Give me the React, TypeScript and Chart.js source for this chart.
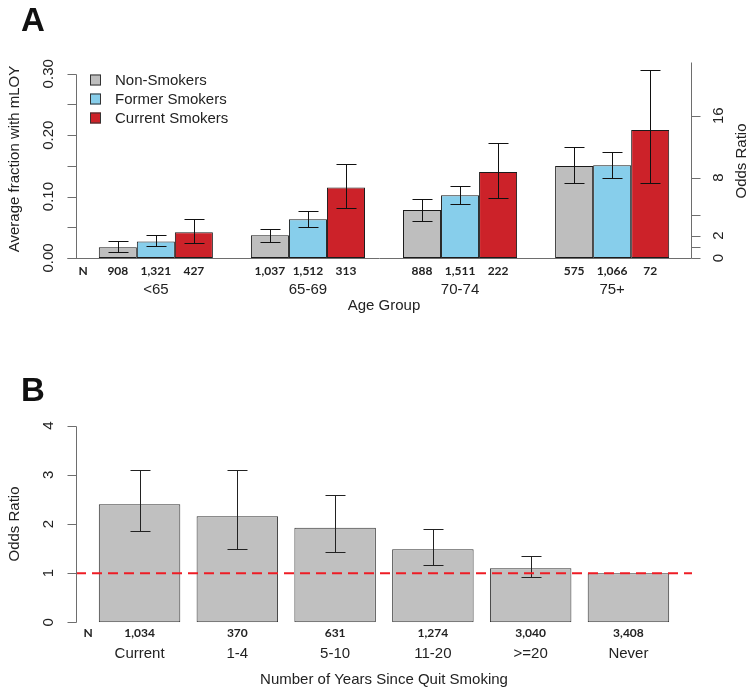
import React, { useEffect, useRef } from 'react';
import { Chart, registerables } from 'chart.js';

Chart.register(...registerables);

// ---------- Panel A data ----------
const ageGroups = ['<65', '65-69', '70-74', '75+'];
const seriesNames = ['Non-Smokers', 'Former Smokers', 'Current Smokers'];
const nonSmokers = [0.0175, 0.037, 0.078, 0.150];
const nonSmokersLo = [0.0098, 0.026, 0.061, 0.122];
const nonSmokersHi = [0.027, 0.048, 0.096, 0.180];
const formerSmokers = [0.027, 0.063, 0.102, 0.151];
const formerSmokersLo = [0.019, 0.051, 0.0875, 0.130];
const formerSmokersHi = [0.037, 0.076, 0.118, 0.173];
const currentSmokers = [0.042, 0.115, 0.140, 0.2085];
const currentSmokersLo = [0.025, 0.082, 0.097, 0.1226];
const currentSmokersHi = [0.063, 0.1526, 0.188, 0.3067];
const nNon = ['908', '1,037', '888', '575'];
const nFormer = ['1,321', '1,512', '1,511', '1,066'];
const nCurrent = ['427', '313', '222', '72'];
const fracTicks = [0, 0.05, 0.1, 0.15, 0.2, 0.25, 0.3];
const fracTickLabels = ['0.00', '', '0.10', '', '0.20', '', '0.30'];
const orTicks = [0, 1, 2, 4, 8, 16];
const orTickLabels = ['0', '', '2', '', '8', '16'];
const baselineFraction = 0.0185;

// ---------- Panel B data ----------
const quitCats = ['Current', '1-4', '5-10', '11-20', '>=20', 'Never'];
const quitOR = [2.40, 2.157, 1.925, 1.485, 1.099, 1.0];
const quitLo = [1.85, 1.485, 1.43, 1.172, 0.916, null];
const quitHi = [3.09, 3.105, 2.584, 1.898, 1.343, null];
const quitN = ['1,034', '370', '631', '1,274', '3,040', '3,408'];
const orTicksB = [0, 1, 2, 3, 4];
const orTickLabelsB = ['0', '1', '2', '3', '4'];

const GRAY = '#BEBEBE';
const BLUE = '#87CEEB';
const RED = '#CC2229';
const AXIS = '#6e6e6e';
const FONT = '"Liberation Sans", Arial, sans-serif';
const NFONT = 'bold 12px Lato, "Open Sans", sans-serif';

function rotText(ctx: CanvasRenderingContext2D, txt: string, x: number, y: number) {
  ctx.save();
  ctx.translate(x, y);
  ctx.rotate(-Math.PI / 2);
  ctx.textAlign = 'center';
  ctx.textBaseline = 'middle';
  ctx.fillText(txt, 0, 0);
  ctx.restore();
}

function drawErrorBars(ctx: CanvasRenderingContext2D, chart: any, dsIndex: number, lo: (number | null)[], hi: (number | null)[], color: string) {
  const meta = chart.getDatasetMeta(dsIndex);
  const ys = chart.scales.y;
  ctx.save();
  ctx.strokeStyle = color;
  ctx.lineWidth = 1;
  meta.data.forEach((bar: any, i: number) => {
    const l = lo[i];
    const h = hi[i];
    if (l == null || h == null) return;
    const x = Math.round(bar.x) + 0.5;
    const yl = Math.round(ys.getPixelForValue(l)) + 0.5;
    const yh = Math.round(ys.getPixelForValue(h)) + 0.5;
    ctx.beginPath();
    ctx.moveTo(x, yl); ctx.lineTo(x, yh);
    ctx.moveTo(x - 10, yl); ctx.lineTo(x + 10, yl);
    ctx.moveTo(x - 10, yh); ctx.lineTo(x + 10, yh);
    ctx.stroke();
  });
  ctx.restore();
}

const orToFraction = (or: number) => {
  const o0 = baselineFraction / (1 - baselineFraction);
  return (or * o0) / (1 + or * o0);
};

const panelAPlugin = {
  id: 'panelA',
  afterDatasetsDraw(chart: any) {
    const ctx = chart.ctx as CanvasRenderingContext2D;
    drawErrorBars(ctx, chart, 0, nonSmokersLo, nonSmokersHi, '#111');
    drawErrorBars(ctx, chart, 1, formerSmokersLo, formerSmokersHi, '#111');
    drawErrorBars(ctx, chart, 2, currentSmokersLo, currentSmokersHi, '#111');
  },
  afterDraw(chart: any) {
    const ctx = chart.ctx as CanvasRenderingContext2D;
    const { left, right, top } = chart.chartArea;
    const ys = chart.scales.y;
    const y0 = Math.round(ys.getPixelForValue(0)) + 0.5;
    const lx = Math.round(left) + 0.5;
    const rx = Math.round(right) - 0.5;
    ctx.save();
    ctx.strokeStyle = AXIS;
    ctx.lineWidth = 1;
    ctx.beginPath();
    ctx.moveTo(lx - 9, y0); ctx.lineTo(rx, y0);
    ctx.stroke();
    const yTop = Math.round(ys.getPixelForValue(fracTicks[fracTicks.length - 1])) + 0.5;
    ctx.beginPath();
    ctx.moveTo(lx, y0); ctx.lineTo(lx, yTop);
    fracTicks.forEach((t) => {
      const y = Math.round(ys.getPixelForValue(t)) + 0.5;
      ctx.moveTo(lx - 9, y); ctx.lineTo(lx, y);
    });
    ctx.stroke();
    ctx.beginPath();
    ctx.moveTo(rx, y0); ctx.lineTo(rx, Math.round(top) + 0.5);
    orTicks.forEach((t) => {
      const y = Math.round(ys.getPixelForValue(orToFraction(t))) + 0.5;
      ctx.moveTo(rx, y); ctx.lineTo(rx + 9, y);
    });
    ctx.stroke();
    ctx.restore();

    ctx.save();
    ctx.fillStyle = '#222';
    ctx.font = `15px ${FONT}`;
    fracTicks.forEach((t, i) => {
      if (fracTickLabels[i]) rotText(ctx, fracTickLabels[i], left - 27, ys.getPixelForValue(t));
    });
    orTicks.forEach((t, i) => {
      if (orTickLabels[i]) rotText(ctx, orTickLabels[i], right + 27, ys.getPixelForValue(orToFraction(t)));
    });
    rotText(ctx, 'Average fraction with mLOY', 15, 159);
    rotText(ctx, 'Odds Ratio', 742, 161);

    ctx.textAlign = 'center';
    ctx.textBaseline = 'middle';
    const metas = [0, 1, 2].map((d) => chart.getDatasetMeta(d));
    ageGroups.forEach((g, i) => {
      const cx = metas[1].data[i].x;
      ctx.font = `15px ${FONT}`;
      ctx.fillText(g, cx, 290);
    });
    ctx.fillText('Age Group', (left + right) / 2, 306);
    ctx.font = NFONT;
    ctx.fillText('N', 83, 271);
    const nLists = [nNon, nFormer, nCurrent];
    metas.forEach((m, d) => {
      m.data.forEach((bar: any, i: number) => {
        ctx.fillText(nLists[d][i], bar.x, 271);
      });
    });

    const colors = [GRAY, BLUE, RED];
    seriesNames.forEach((name, i) => {
      const cy = 79.5 + i * 19;
      ctx.fillStyle = colors[i];
      ctx.fillRect(90, cy - 5, 11, 11);
      ctx.strokeStyle = '#333';
      ctx.lineWidth = 1;
      ctx.strokeRect(90.5, cy - 4.5, 10, 10);
      ctx.fillStyle = '#222';
      ctx.font = `15px ${FONT}`;
      ctx.textAlign = 'left';
      ctx.textBaseline = 'middle';
      ctx.fillText(name, 115, cy + 1);
    });

    ctx.fillStyle = '#111';
    ctx.font = `bold 33px ${FONT}`;
    ctx.textAlign = 'left';
    ctx.textBaseline = 'alphabetic';
    ctx.fillText('A', 21, 31);
    ctx.restore();
  },
};

const panelBPlugin = {
  id: 'panelB',
  afterDatasetsDraw(chart: any) {
    const ctx = chart.ctx as CanvasRenderingContext2D;
    drawErrorBars(ctx, chart, 0, quitLo, quitHi, '#222');
    const { left, right } = chart.chartArea;
    const ys = chart.scales.y;
    const y1 = ys.getPixelForValue(1);
    ctx.save();
    ctx.strokeStyle = '#EE1C25';
    ctx.lineWidth = 2;
    ctx.setLineDash([10, 6]);
    ctx.beginPath();
    ctx.moveTo(left, y1); ctx.lineTo(right, y1);
    ctx.stroke();
    ctx.restore();
  },
  afterDraw(chart: any) {
    const ctx = chart.ctx as CanvasRenderingContext2D;
    const { left, right } = chart.chartArea;
    const ys = chart.scales.y;
    const lx = Math.round(left) + 0.5;
    ctx.save();
    ctx.strokeStyle = AXIS;
    ctx.lineWidth = 1;
    ctx.beginPath();
    ctx.moveTo(lx, Math.round(ys.getPixelForValue(orTicksB[0])) + 0.5);
    ctx.lineTo(lx, Math.round(ys.getPixelForValue(orTicksB[orTicksB.length - 1])) + 0.5);
    orTicksB.forEach((t) => {
      const y = Math.round(ys.getPixelForValue(t)) + 0.5;
      ctx.moveTo(lx - 9, y); ctx.lineTo(lx, y);
    });
    ctx.stroke();
    ctx.fillStyle = '#222';
    ctx.font = `15px ${FONT}`;
    orTicksB.forEach((t, i) => rotText(ctx, orTickLabelsB[i], left - 27, ys.getPixelForValue(t)));
    rotText(ctx, 'Odds Ratio', 15, 194);

    ctx.textAlign = 'center';
    ctx.textBaseline = 'middle';
    const meta = chart.getDatasetMeta(0);
    meta.data.forEach((bar: any, i: number) => {
      ctx.font = `15px ${FONT}`;
      ctx.fillText(quitCats[i], bar.x, 323.5);
      ctx.font = NFONT;
      ctx.fillText(quitN[i], bar.x, 303.5);
    });
    ctx.font = NFONT;
    ctx.fillText('N', 88, 303.5);
    ctx.font = `15px ${FONT}`;
    ctx.fillText('Number of Years Since Quit Smoking', (left + right) / 2, 349.5);

    ctx.fillStyle = '#111';
    ctx.font = `bold 33px ${FONT}`;
    ctx.textAlign = 'left';
    ctx.textBaseline = 'alphabetic';
    ctx.fillText('B', 21, 71);
    ctx.restore();
  },
};

function PanelA() {
  const ref = useRef<HTMLCanvasElement>(null);
  useEffect(() => {
    if (!ref.current) return;
    const centers = ageGroups.map((_, i) => 2.5 + 4 * i);
    const mk = (vals: number[]) => vals.map((v, i) => ({ x: centers[i], y: v }));
    const common = { borderColor: '#1a1a1a', borderWidth: 1, borderSkipped: false as const };
    const chart = new Chart(ref.current, {
      type: 'bar',
      data: {
        datasets: [
          { label: seriesNames[0], data: mk(nonSmokers), backgroundColor: GRAY, ...common },
          { label: seriesNames[1], data: mk(formerSmokers), backgroundColor: BLUE, ...common },
          { label: seriesNames[2], data: mk(currentSmokers), backgroundColor: RED, ...common },
        ],
      },
      options: {
        animation: false,
        responsive: false,
        maintainAspectRatio: false,
        layout: { padding: { left: 76, right: 62, top: 61.5, bottom: 72 } },
        plugins: { legend: { display: false }, tooltip: { enabled: false } },
        datasets: { bar: { categoryPercentage: 0.75, barPercentage: 1 } },
        scales: {
          x: {
            type: 'linear', min: 0.4, max: 16.6, display: false, offset: false,
            afterBuildTicks: (s: any) => { s.ticks = centers.map((v) => ({ value: v })); },
          },
          y: { type: 'linear', min: 0, max: 0.32, display: false },
        },
      } as any,
      plugins: [panelAPlugin],
    });
    return () => chart.destroy();
  }, []);
  return <canvas ref={ref} width={754} height={330} style={{ position: 'absolute', left: 0, top: 0 }} />;
}

function PanelB() {
  const ref = useRef<HTMLCanvasElement>(null);
  useEffect(() => {
    if (!ref.current) return;
    const centers = quitCats.map((_, i) => 0.7 + 1.2 * i);
    const chart = new Chart(ref.current, {
      type: 'bar',
      data: {
        datasets: [
          {
            label: 'Odds Ratio',
            data: quitOR.map((v, i) => ({ x: centers[i], y: v })),
            backgroundColor: '#C0C0C0',
            borderColor: '#333333',
            borderWidth: 1,
            borderSkipped: false,
          },
        ],
      },
      options: {
        animation: false,
        responsive: false,
        maintainAspectRatio: false,
        layout: { padding: { left: 76, right: 62, top: 95.7, bottom: 71.7 } },
        plugins: { legend: { display: false }, tooltip: { enabled: false } },
        datasets: { bar: { categoryPercentage: 1, barPercentage: 1 / 1.2 } },
        scales: {
          x: {
            type: 'linear', min: -0.08, max: 7.48, display: false, offset: false,
            afterBuildTicks: (s: any) => { s.ticks = centers.map((v) => ({ value: v })); },
          },
          y: { type: 'linear', min: 0, max: 4, display: false },
        },
      } as any,
      plugins: [panelBPlugin],
    });
    return () => chart.destroy();
  }, []);
  return <canvas ref={ref} width={754} height={364} style={{ position: 'absolute', left: 0, top: 330 }} />;
}

export default function App() {
  return (
    <div style={{ position: 'absolute', left: 0, top: 0, width: 754, height: 694, background: '#fff' }}>
      <PanelA />
      <PanelB />
    </div>
  );
}
